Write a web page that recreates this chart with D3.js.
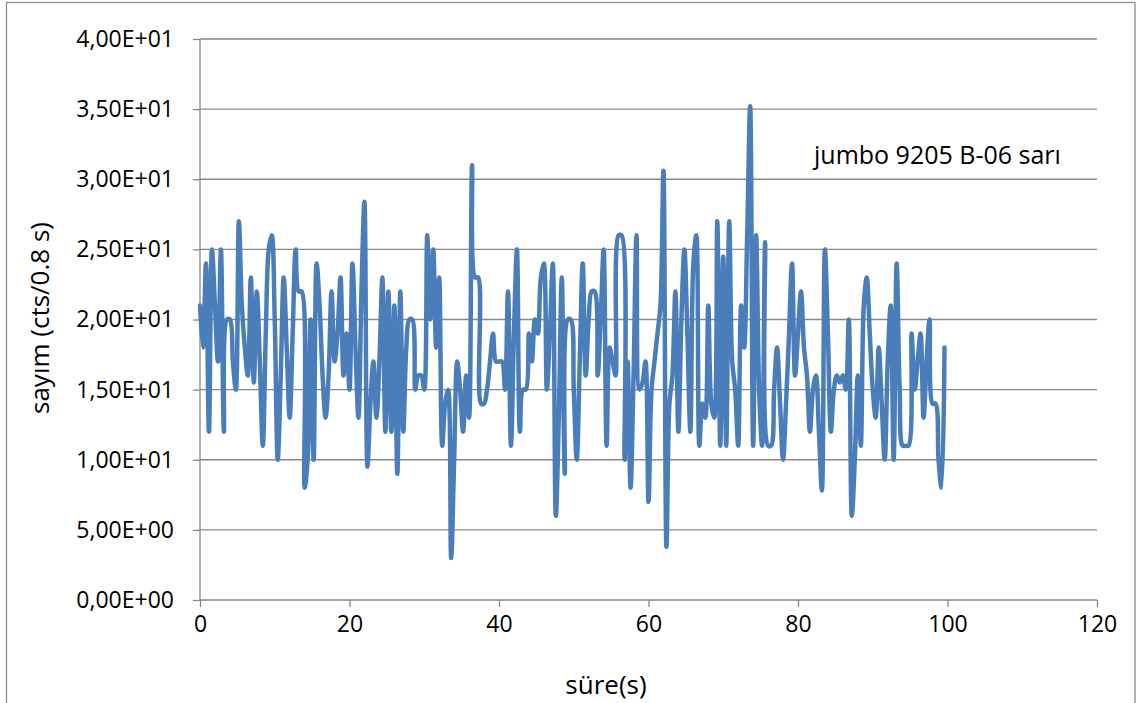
<!DOCTYPE html>
<html>
<head>
<meta charset="utf-8">
<script src="https://cdn.jsdelivr.net/npm/d3@7"></script>
<style>
  body { margin: 0; background: #fff; }
  text { font-family: "Open Sans", Lato, sans-serif; fill: #000; }
</style>
</head>
<body>
<div id="chart"></div>
<script>
var svgWidth = 1147;
var svgHeight = 703;

var margin = { top: 39, right: 50, bottom: 103, left: 200 };
var width = 897;
var height = 561;

var step = 0.4;
var counts = [
  21, 18, 24, 12, 25, 21, 17, 25, 12, 20,
  20, 17, 15, 27, 21, 18, 16, 23, 15.5, 22,
  17, 11, 19, 25, 26, 20, 10, 16, 23, 18,
  13, 19, 25, 22, 22, 8, 10, 20, 10, 24,
  21, 16, 13, 16, 22, 17, 19, 23, 16, 19,
  15, 24, 18, 13, 22, 28.4, 9.5, 14, 17, 13,
  17, 23, 12, 22, 12, 21, 9, 22, 12, 18,
  20, 20, 15, 16, 16, 15, 26, 20, 25, 18,
  23, 11, 14, 15, 3, 10, 17, 15, 12, 16,
  13, 31, 23, 23, 14, 14, 15, 17, 19, 17,
  17, 17, 15, 22, 11, 19, 25, 12, 15, 15,
  19, 17, 20, 19, 23, 24, 15, 19, 24, 6,
  13, 23, 9, 20, 20, 15, 10, 17, 24, 16,
  20, 22, 22, 16, 20, 25, 11, 18, 17, 16,
  26, 26, 10, 17, 8, 16, 26, 15, 15.5, 17,
  7, 15, 17, 19, 21, 30.6, 3.8, 14, 16, 22,
  12, 20, 25, 19, 12, 24, 26, 11, 14, 13,
  21, 14, 13, 27, 11, 24.5, 11, 27, 17, 15,
  11, 21, 18, 26, 35.2, 11, 26, 15, 11, 25.5,
  11, 11, 15, 18, 14, 10, 14, 19, 24, 16,
  19, 22, 18, 16, 12, 15, 16, 12, 7.8, 25,
  19, 12, 15, 16, 15.5, 16, 15, 20, 6, 10,
  16, 11, 21, 23, 19, 15, 13, 18, 14, 10,
  17, 21, 10, 24, 15, 11, 11, 11, 19, 15,
  17, 19, 13, 17, 20, 14, 14, 10, 8, 18
];
var times = counts.map(function(d, i) { return i * step; });

var xTicks = [0, 20, 40, 60, 80, 100, 120];
var yTicks = [0, 5, 10, 15, 20, 25, 30, 35, 40];
var seriesLabel = "jumbo 9205 B-06 sarı";
var xTitle = "süre(s)";
var yTitle = "sayım (cts/0.8 s)";

var data = times.map(function(t, i) { return { t: t, c: counts[i] }; });

var svg = d3.select("#chart")
  .append("svg")
  .attr("width", svgWidth)
  .attr("height", svgHeight);

// chart frame
svg.append("rect")
  .attr("x", 6.5)
  .attr("y", 2.5)
  .attr("width", 1128.5)
  .attr("height", 720)
  .attr("fill", "none")
  .attr("stroke", "#8c8c8c")
  .attr("stroke-width", 1.3);

var chartGroup = svg.append("g")
  .attr("transform", `translate(${margin.left}, ${margin.top})`);

var xScale = d3.scaleLinear().domain([0, 120]).range([0, width]);
var yScale = d3.scaleLinear().domain([0, 40]).range([height, 0]);

function sciComma(v) {
  var s = v.toExponential(2).split("e");
  var exp = +s[1];
  var sign = exp < 0 ? "-" : "+";
  var e = Math.abs(exp);
  return s[0].replace(".", ",") + "E" + sign + (e < 10 ? "0" + e : e);
}

var gridColor = "#878787";
var fontSize = "23px";

// horizontal gridlines
chartGroup.append("g")
  .selectAll("line")
  .data(yTicks.slice(1))
  .enter()
  .append("line")
  .attr("x1", 0)
  .attr("x2", width)
  .attr("y1", d => yScale(d))
  .attr("y2", d => yScale(d))
  .attr("stroke", gridColor)
  .attr("stroke-width", 1.3);

// Axes
var bottomAxis = d3.axisBottom(xScale).tickValues(xTicks).tickSize(7).tickPadding(9);
var leftAxis = d3.axisLeft(yScale).tickValues(yTicks).tickSize(7).tickPadding(19).tickFormat(sciComma);

var xAxisG = chartGroup.append("g")
  .attr("transform", `translate(0, ${height})`)
  .call(bottomAxis);

var yAxisG = chartGroup.append("g")
  .call(leftAxis);

[xAxisG, yAxisG].forEach(function(g) {
  g.select(".domain").attr("stroke", gridColor).attr("stroke-width", 1.3);
  g.selectAll(".tick line").attr("stroke", gridColor).attr("stroke-width", 1.3);
  g.selectAll(".tick text")
    .attr("fill", "#000")
    .style("font-family", "'Open Sans', Lato, sans-serif")
    .style("font-size", fontSize);
});
xAxisG.select(".domain").attr("d", `M0,0H${width}`);
yAxisG.select(".domain").attr("d", `M0,${height}V0`);

// the series
var line = d3.line()
  .x(d => xScale(d.t))
  .y(d => yScale(d.c))
  .curve(d3.curveCatmullRom.alpha(0.5));

chartGroup.append("path")
  .datum(data)
  .attr("d", line)
  .attr("fill", "none")
  .attr("stroke", "#4a7ebb")
  .attr("stroke-width", 4.5)
  .attr("stroke-linejoin", "round")
  .attr("stroke-linecap", "round");

// series label
chartGroup.append("text")
  .attr("x", 614)
  .attr("y", 125)
  .style("font-size", "25px")
  .text(seriesLabel);

// axis titles
svg.append("text")
  .attr("x", 606)
  .attr("y", 694)
  .style("text-anchor", "middle")
  .style("font-size", "26px")
  .text(xTitle);

svg.append("text")
  .attr("transform", "rotate(-90)")
  .attr("x", -318)
  .attr("y", 49)
  .style("text-anchor", "middle")
  .style("font-size", "26px")
  .text(yTitle);
</script>
</body>
</html>
